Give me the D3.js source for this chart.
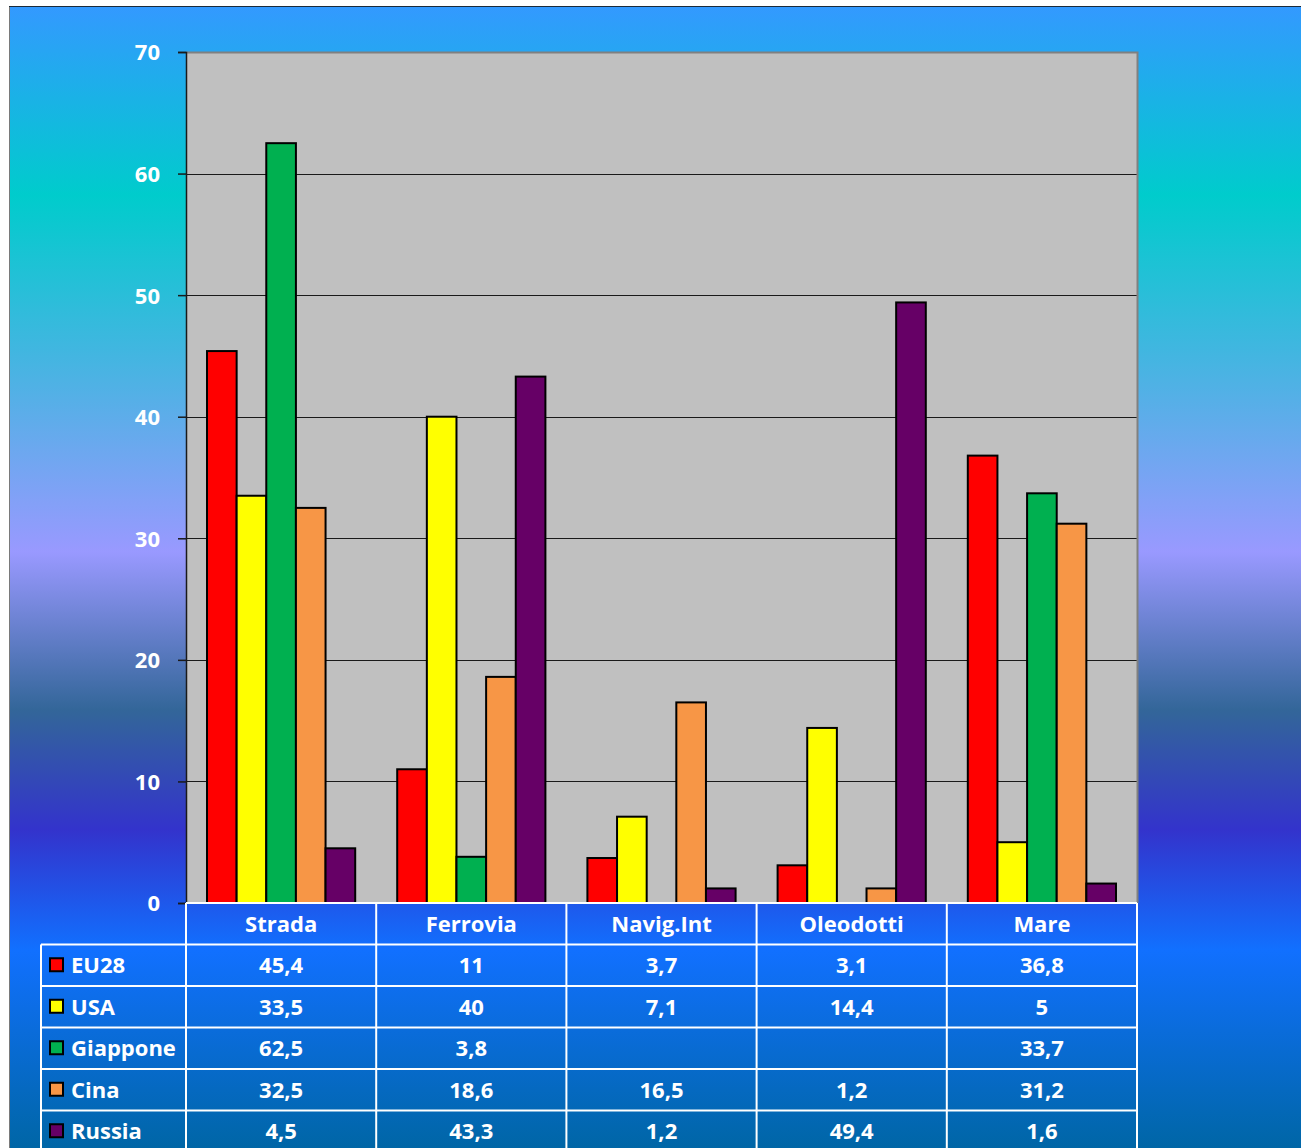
<!DOCTYPE html>
<html>
<head>
<meta charset="utf-8">
<script src="https://cdn.jsdelivr.net/npm/d3@7"></script>
<style>
  html, body { margin: 0; padding: 0; background: #ffffff; }
  svg { display: block; }
  text { font-family: "Open Sans", Lato, sans-serif; font-weight: 700; fill: #ffffff; }
</style>
</head>
<body>
<svg id="chart" width="1301" height="1148"></svg>
<script>
// Modal split of freight transport (%) by mode, for five economies
const categories = ["Strada", "Ferrovia", "Navig.Int", "Oleodotti", "Mare"];
const seriesNames = ["EU28", "USA", "Giappone", "Cina", "Russia"];
const seriesColors = ["#ff0000", "#ffff00", "#00b050", "#f79646", "#660066"];
const eu28 = [45.4, 11, 3.7, 3.1, 36.8];
const usa = [33.5, 40, 7.1, 14.4, 5];
const giappone = [62.5, 3.8, null, null, 33.7];
const cina = [32.5, 18.6, 16.5, 1.2, 31.2];
const russia = [4.5, 43.3, 1.2, 49.4, 1.6];
const yTicks = [0, 10, 20, 30, 40, 50, 60, 70];

const seriesValues = [eu28, usa, giappone, cina, russia];
const fmt = v => v == null ? "" : String(v).replace(".", ",");
const fontSize = "22px";

const svg = d3.select("#chart");
const W = 1301, H = 1148;

// Background gradient of the frame
const defs = svg.append("defs");
const grad = defs.append("linearGradient")
  .attr("id", "bg").attr("gradientUnits", "userSpaceOnUse")
  .attr("x1", 0).attr("y1", 6).attr("x2", 0).attr("y2", 1148);
const stops = [
  [6, "#3399ff"], [195, "#00cccc"], [380, "#4db2e4"], [552, "#9999ff"],
  [710, "#336699"], [830, "#3333cc"], [950, "#1170ff"], [1148, "#0066a6"]
];
stops.forEach(([y, c]) => grad.append("stop")
  .attr("offset", (y - 6) / (1148 - 6)).attr("stop-color", c));

svg.append("rect").attr("x", 9.5).attr("y", 6.5).attr("width", W).attr("height", H)
  .attr("fill", "url(#bg)").attr("stroke", "#7a7a7a").attr("stroke-width", 1);
svg.append("line").attr("x1", 9).attr("x2", W).attr("y1", 6.5).attr("y2", 6.5)
  .attr("stroke", "#1a2a3a").attr("stroke-width", 1.2);

// Plot area
const plot = { left: 186, right: 1137, top: 52, bottom: 903 };
const x = d3.scaleBand().domain(categories).range([plot.left, plot.right]).paddingInner(0).paddingOuter(0);
const y = d3.scaleLinear().domain([0, 70]).range([plot.bottom, plot.top]);
const groupPad = 21;
const xs = d3.scaleBand().domain(seriesNames)
  .range([groupPad, x.bandwidth() - groupPad]).padding(0);

svg.append("rect")
  .attr("x", plot.left).attr("y", plot.top)
  .attr("width", plot.right - plot.left).attr("height", plot.bottom - plot.top)
  .attr("fill", "#c0c0c0");

// Horizontal gridlines
svg.append("g").selectAll("line").data(yTicks.filter(t => t > 0 && t < 70)).join("line")
  .attr("x1", plot.left).attr("x2", plot.right)
  .attr("y1", d => Math.round(y(d)) + 0.5).attr("y2", d => Math.round(y(d)) + 0.5)
  .attr("stroke", "#1a1a1a").attr("stroke-width", 1);

// Plot border (top and right in gray)
svg.append("path")
  .attr("d", `M${plot.left},${plot.top + 0.5} H${plot.right + 0.5} V${plot.bottom}`)
  .attr("fill", "none").attr("stroke", "#808080").attr("stroke-width", 2);

// Bars
const groups = svg.append("g").selectAll("g").data(categories).join("g")
  .attr("transform", d => `translate(${x(d)},0)`);
groups.selectAll("rect")
  .data((c, ci) => seriesNames.map((s, si) => ({ s, si, v: seriesValues[si][ci] })).filter(d => d.v != null))
  .join("rect")
  .attr("x", d => xs(d.s))
  .attr("y", d => y(d.v))
  .attr("width", xs.bandwidth())
  .attr("height", d => y(0) - y(d.v))
  .attr("fill", d => seriesColors[d.si])
  .attr("stroke", "#000").attr("stroke-width", 2);

// Y axis
const yAxis = d3.axisLeft(y).tickValues(yTicks).tickSize(8).tickPadding(18);
const ya = svg.append("g").attr("transform", `translate(${plot.left},0)`).call(yAxis);
ya.select(".domain").attr("stroke", "#1a1a1a").attr("stroke-width", 1.5);
ya.selectAll(".tick line").attr("stroke", "#1a1a1a").attr("stroke-width", 1.5);
ya.selectAll(".tick text").attr("fill", "#fff").style("font-size", fontSize)
  .style("font-family", "'Open Sans', sans-serif").style("font-weight", 700).attr("dy", "0.36em");

// Data table below the plot
const rowH = 41.5;
const tableTop = plot.bottom;
const labelLeft = 41;
const lineColor = "#ffffff";
const tbl = svg.append("g");

// Header row with category names
tbl.selectAll("text.head").data(categories).join("text")
  .attr("class", "head")
  .attr("x", d => x(d) + x.bandwidth() / 2)
  .attr("y", tableTop + rowH / 2)
  .attr("dy", "0.36em").attr("text-anchor", "middle").style("font-size", fontSize)
  .text(d => d);

// Data rows
seriesNames.forEach((s, si) => {
  const ry = tableTop + rowH * (si + 1);
  const g = tbl.append("g");
  g.append("rect").attr("x", 50).attr("y", ry + rowH / 2 - 7).attr("width", 13).attr("height", 13)
    .attr("fill", seriesColors[si]).attr("stroke", "#000").attr("stroke-width", 2);
  g.append("text").attr("x", 71).attr("y", ry + rowH / 2).attr("dy", "0.36em")
    .style("font-size", fontSize).text(s);
  g.selectAll("text.val").data(categories).join("text")
    .attr("class", "val")
    .attr("x", d => x(d) + x.bandwidth() / 2)
    .attr("y", ry + rowH / 2)
    .attr("dy", "0.36em").attr("text-anchor", "middle").style("font-size", fontSize)
    .text((d, ci) => fmt(seriesValues[si][ci]));
});

// Table grid lines
const hLines = d3.range(0, seriesNames.length + 1).map(i => tableTop + rowH * i);
tbl.selectAll("line.h").data(hLines).join("line")
  .attr("x1", (d, i) => i === 0 ? plot.left : labelLeft).attr("x2", plot.right)
  .attr("y1", d => d).attr("y2", d => d)
  .attr("stroke", lineColor).attr("stroke-width", 2);
const vLines = [plot.left].concat(categories.map(c => x(c) + x.bandwidth()));
tbl.selectAll("line.v").data(vLines).join("line")
  .attr("x1", d => d).attr("x2", d => d)
  .attr("y1", tableTop).attr("y2", H)
  .attr("stroke", lineColor).attr("stroke-width", 2);
tbl.append("line").attr("x1", labelLeft).attr("x2", labelLeft)
  .attr("y1", tableTop + rowH).attr("y2", H)
  .attr("stroke", lineColor).attr("stroke-width", 2);
</script>
</body>
</html>
